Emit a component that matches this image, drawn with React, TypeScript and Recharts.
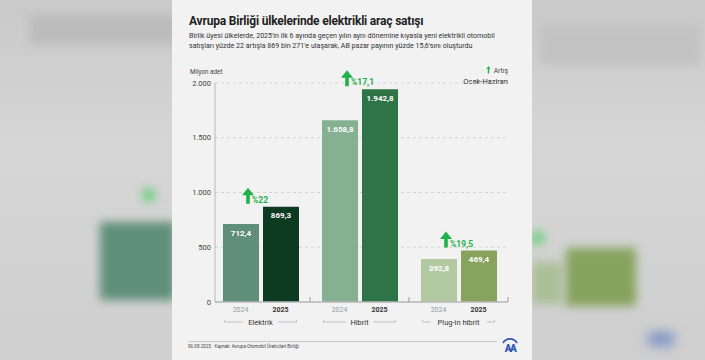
import { Bar, BarChart, CartesianGrid, Cell, LabelList, XAxis, YAxis } from "recharts"

const categories = ["Elektrik", "Hibrit", "Plug-in hibrit"]
const sales2024 = [712.4, 1658.8, 392.8]
const sales2025 = [869.3, 1942.8, 469.4]
const growth = ["%22", "%17,1", "%19,5"]
const yTicks = [0, 500, 1000, 1500, 2000]

const colors2024 = ["#5f8f7b", "#86b092", "#b3c9a2"]
const colors2025 = ["#0d3b22", "#2f7446", "#88a35d"]

const rows = categories.map((name, i) => ({
  name,
  y2024: sales2024[i],
  y2025: sales2025[i],
  growth: growth[i],
}))

const FONT = "Roboto, 'Noto Sans', sans-serif"
const GREEN = "#1fb14a"

// chart geometry (card-relative)
const CHART_W = 360
const CHART_H = 360
const Y_W = 43
const M_RIGHT = 24
// categories start a little left of the y axis line in the original
const X_PAD_LEFT = -4
const BAND = (CHART_W - Y_W - M_RIGHT - X_PAD_LEFT) / categories.length

// 1658.8 -> "1.658,8"
function fmt(v: number, decimals = 1) {
  const [int, dec] = v.toFixed(decimals).split(".")
  const withDots = int.replace(/\B(?=(\d{3})+(?!\d))/g, ".")
  return dec ? `${withDots},${dec}` : withDots
}

function CategoryTick(props: any) {
  const { x, y, payload } = props
  const labelW = payload.value.length * 3.6 + 6
  return (
    <g fontFamily={FONT}>
      <text x={x - 20} y={y + 10} textAnchor="middle" fontSize={7} fill="#9a9a9a">2024</text>
      <text x={x + 20} y={y + 10} textAnchor="middle" fontSize={7} fontWeight={700} fill="#333">2025</text>
      <line x1={x + BAND / 2} x2={x + BAND / 2} y1={y - 5} y2={y} stroke="#9a9a9a" strokeWidth={1} />
      <path
        d={`M${x - 36},${y + 18} v2 H${x - labelW / 2} M${x + labelW / 2},${y + 20} H${x + 36} v-2`}
        stroke="#b5b5b5"
        strokeWidth={0.8}
        fill="none"
      />
      <text x={x} y={y + 23} textAnchor="middle" fontSize={7.5} fill="#333">{payload.value}</text>
    </g>
  )
}

function GrowthTag(props: any) {
  const { x, y, value } = props
  const cx = x - 15
  const tip = y - 19
  const bottom = y - 3
  return (
    <g>
      <path
        d={`M${cx},${tip} L${cx + 6},${tip + 7.5} H${cx + 1.8} V${bottom} H${cx - 1.8} V${tip + 7.5} H${cx - 6} Z`}
        fill={GREEN}
      />
      <text x={x - 11} y={y - 4} fontSize={8.5} fontWeight={700} fill={GREEN} fontFamily={FONT}>
        {value}
      </text>
    </g>
  )
}

function Backdrop() {
  const blur = (style: React.CSSProperties) => (
    <div style={{ position: "absolute", filter: "blur(5px)", ...style }} />
  )
  return (
    <>
      {blur({ left: 0, top: 0, width: 705, height: 360, background: "linear-gradient(180deg,#c9c9c9 0%,#d6d6d6 40%,#cfcfcf 100%)", filter: "none" })}
      {blur({ left: 30, top: 15, width: 150, height: 30, background: "#bcbcbc" })}
      {blur({ left: 540, top: 25, width: 160, height: 40, background: "#c2c2c2" })}
      {blur({ left: 100, top: 222, width: 75, height: 78, background: "#5f8f7b" })}
      {blur({ left: 142, top: 188, width: 14, height: 14, borderRadius: 7, background: "#6fd080" })}
      {blur({ left: 532, top: 262, width: 30, height: 42, background: "#aabf98" })}
      {blur({ left: 566, top: 248, width: 70, height: 58, background: "#86a35e" })}
      {blur({ left: 531, top: 231, width: 14, height: 14, borderRadius: 7, background: "#6fd080" })}
      {blur({ left: 647, top: 332, width: 28, height: 14, borderRadius: 7, background: "#7d92c6", filter: "blur(6px)" })}
    </>
  )
}

export default function App() {
  return (
    <div style={{ position: "absolute", left: 0, top: 0, width: 705, height: 360, overflow: "hidden", fontFamily: FONT }}>
      <Backdrop />
      <div style={{ position: "absolute", left: 172, top: 0, width: CHART_W, height: CHART_H, background: "#f2f2f2" }}>
        <svg width={CHART_W} height={CHART_H} style={{ position: "absolute", left: 0, top: 0 }} fontFamily={FONT}>
          <text x={17} y={25} fontSize={12} fontWeight={700} fill="#1e1e1e" letterSpacing={-0.2}>
            Avrupa Birliği ülkelerinde elektrikli araç satışı
          </text>
          <text x={17} y={38} fontSize={7.1} fill="#333">
            Birlik üyesi ülkelerde, 2025'in ilk 6 ayında geçen yılın aynı dönemine kıyasla yeni elektrikli otomobil
          </text>
          <text x={17} y={47.5} fontSize={7.1} fill="#333">
            satışları yüzde 22 artışla 869 bin 271'e ulaşarak, AB pazar payının yüzde 15,6'sını oluşturdu
          </text>
          <text x={18} y={74} fontSize={6.3} fill="#444">Milyon adet</text>
          <text x={336} y={73} fontSize={6.8} fill="#444" textAnchor="end">Artış</text>
          <path d="M316.5,66 l2,3 h-1.3 v4.5 h-1.4 v-4.5 h-1.3 z" fill={GREEN} />
          <text x={336} y={84} fontSize={7.5} fill="#222" textAnchor="end">Ocak-Haziran</text>
          <line x1={16} x2={325} y1={341.5} y2={341.5} stroke="#bdbdbd" strokeWidth={0.8} />
          <text x={16} y={347.5} fontSize={4.6} fill="#444">06.08.2025{"\u00a0\u00a0\u00a0"}Kaynak: Avrupa Otomobil Üreticileri Birliği</text>
          <g>
            <path d="M331,343 a8,8 0 0 1 14,0" stroke="#2f55b0" strokeWidth={1.6} fill="none" />
            <text x={338} y={352} fontSize={10} fontWeight={900} fill="#2f55b0" textAnchor="middle" letterSpacing={-1.5}>AA</text>
          </g>
        </svg>
        <div style={{ position: "absolute", left: 0, top: 0 }}>
          <BarChart
            width={CHART_W}
            height={CHART_H}
            data={rows}
            margin={{ top: 83, right: M_RIGHT, bottom: 28, left: 0 }}
            barSize={36}
            barGap={4}
          >
            <CartesianGrid vertical={false} stroke="#d6d6d6" strokeDasharray="3 3" />
            <YAxis
              width={Y_W}
              domain={[0, 2000]}
              ticks={yTicks}
              tickFormatter={(v: number) => fmt(v, 0)}
              axisLine={{ stroke: "#b8b8b8" }}
              tickLine={false}
              tickSize={0}
              tickMargin={4}
              tick={{ fontSize: 7.5, fill: "#444", fontFamily: FONT }}
            />
            <XAxis
              dataKey="name"
              height={30}
              padding={{ left: X_PAD_LEFT, right: 0 }}
              axisLine={{ stroke: "#b8b8b8", strokeWidth: 1.5 }}
              tickLine={false}
              tickSize={0}
              tickMargin={0}
              interval={0}
              tick={<CategoryTick />}
            />
            <Bar dataKey="y2024" isAnimationActive={false}>
              {rows.map((r, i) => (
                <Cell key={r.name} fill={colors2024[i]} />
              ))}
              <LabelList
                dataKey="y2024"
                position="insideTop"
                offset={6}
                formatter={(v: any) => fmt(Number(v))}
                style={{ fill: "#fff", fontSize: 8, fontWeight: 700, fontFamily: FONT }}
              />
            </Bar>
            <Bar dataKey="y2025" isAnimationActive={false}>
              {rows.map((r, i) => (
                <Cell key={r.name} fill={colors2025[i]} />
              ))}
              <LabelList
                dataKey="y2025"
                position="insideTop"
                offset={6}
                formatter={(v: any) => fmt(Number(v))}
                style={{ fill: "#fff", fontSize: 8, fontWeight: 700, fontFamily: FONT }}
              />
              <LabelList dataKey="growth" content={<GrowthTag />} />
            </Bar>
          </BarChart>
        </div>
      </div>
    </div>
  )
}
